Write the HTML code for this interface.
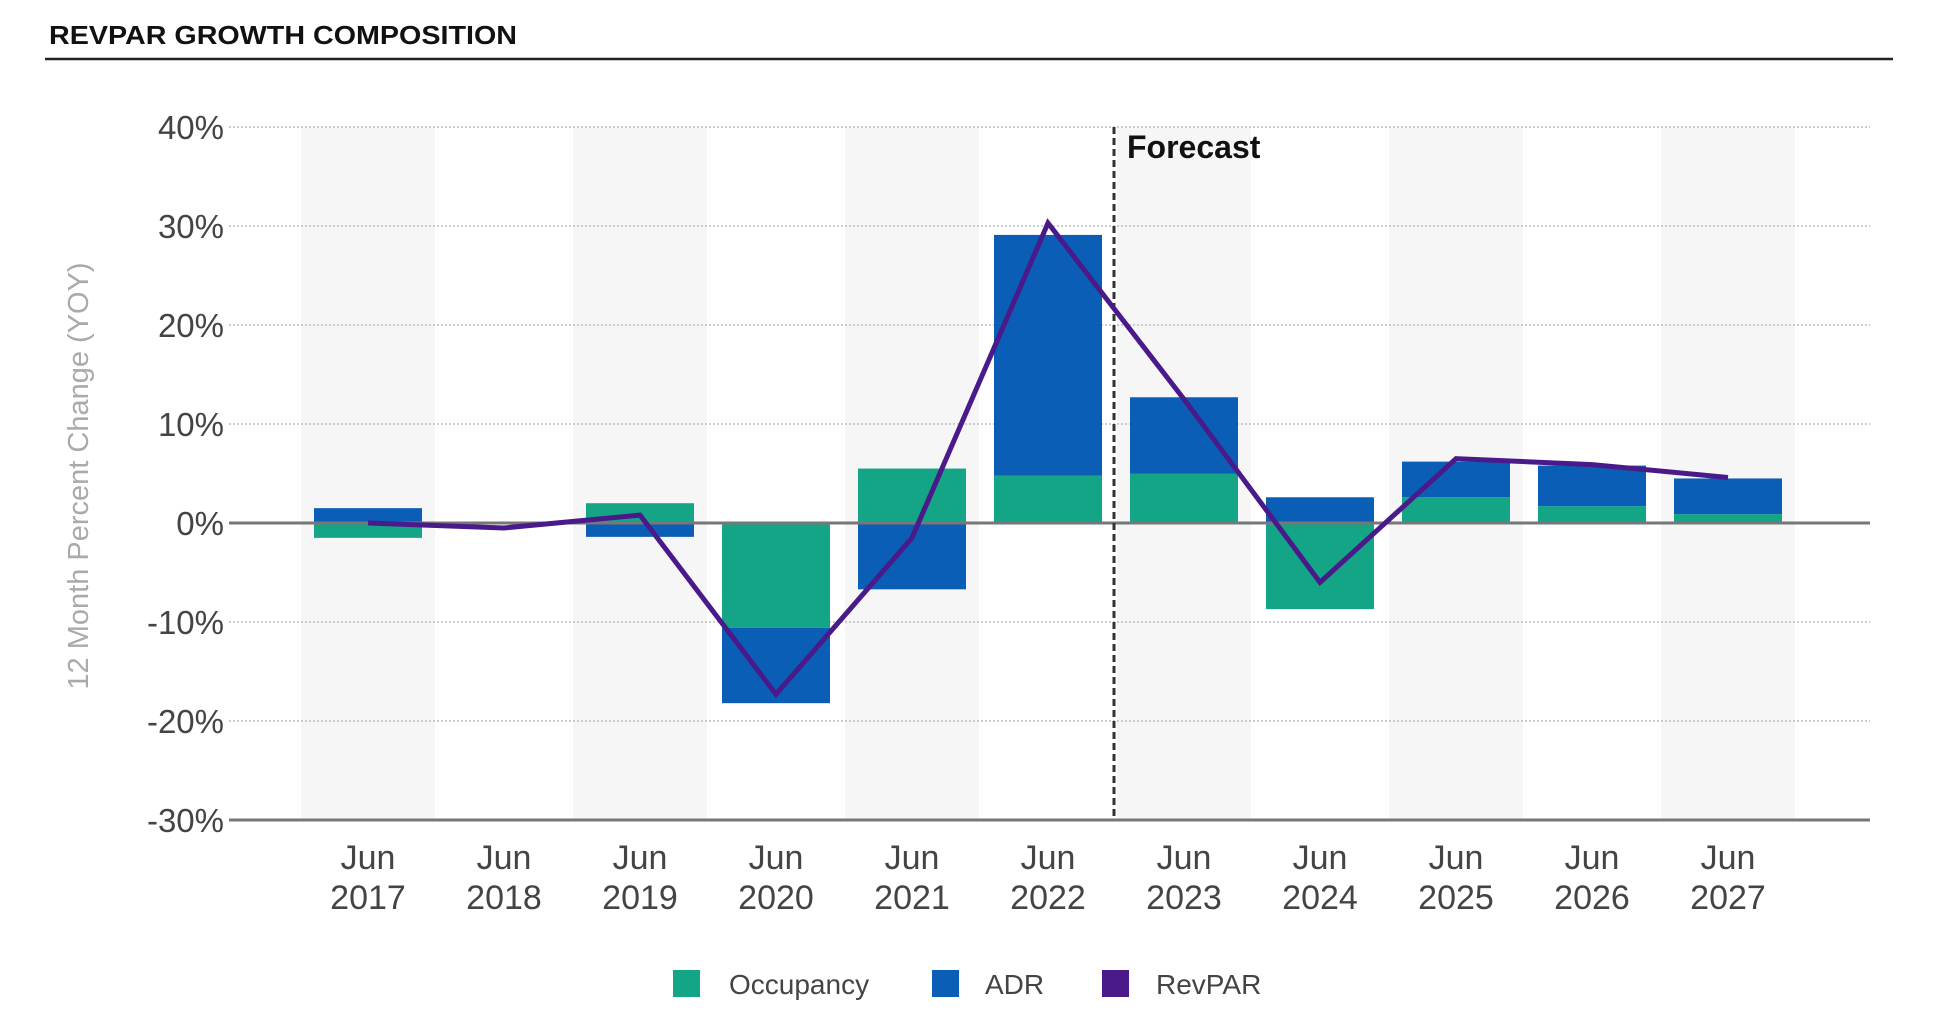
<!DOCTYPE html>
<html><head><meta charset="utf-8"><style>
html,body{margin:0;padding:0;background:#fff;}
body{width:1952px;height:1025px;overflow:hidden;position:relative;font-family:"Liberation Sans",sans-serif;}
</style></head><body>
<svg id="chart" width="1952" height="1025" xmlns="http://www.w3.org/2000/svg" style="position:absolute;left:0;top:0">
<text x="49" y="44" font-size="26" font-weight="bold" fill="#111" textLength="468" lengthAdjust="spacingAndGlyphs">REVPAR GROWTH COMPOSITION</text>
<line x1="45" y1="59" x2="1893" y2="59" stroke="#222" stroke-width="2.5"/>
<g id="bands"></g><g id="grid"></g><g id="bars"></g><g id="axes"></g><g id="line"></g><g id="labels"></g>
<text transform="translate(88,476) rotate(-90)" text-anchor="middle" font-size="29" fill="#aaa">12 Month Percent Change (YOY)</text>
<g>
<rect x="673" y="970" width="27" height="27" fill="#14a587"/>
<text x="729" y="994" font-size="28" fill="#444">Occupancy</text>
<rect x="932" y="970" width="27" height="27" fill="#0b5eb5"/>
<text x="985" y="994" font-size="28" fill="#444">ADR</text>
<rect x="1102" y="970" width="27" height="27" fill="#4a1a8a"/>
<text x="1156" y="994" font-size="28" fill="#444">RevPAR</text>
</g>
</svg>
<script>
const categories = ["2017","2018","2019","2020","2021","2022","2023","2024","2025","2026","2027"];
const occupancy = [-1.5, 0, 2.0, -10.6, 5.5, 4.8, 5.0, -8.7, 2.6, 1.7, 0.9];
const adr = [1.5, 0, -1.4, -7.6, -6.7, 24.3, 7.7, 2.6, 3.6, 4.1, 3.6];
const revpar = [0.0, -0.5, 0.8, -17.3, -1.5, 30.3, 12.5, -6.0, 6.5, 5.9, 4.6];
const yTicks = [40, 30, 20, 10, 0, -10, -20, -30];
const forecastIndex = 5.5;

const NS = "http://www.w3.org/2000/svg";
const plotL = 229, plotR = 1870, x0 = 368, step = 136, barW = 108;
function xs(i){ return x0 + i*step; }
function ys(v){ return 523 - v*9.9; }
function mk(tag, attrs, parent){ const e=document.createElementNS(NS,tag); for(const k in attrs) e.setAttribute(k,attrs[k]); document.getElementById(parent).appendChild(e); return e; }

categories.forEach((c,i)=>{
  if(i%2===0){
    const b = mk('rect',{x:xs(i)-step/2+1,y:ys(40),width:step-2,height:ys(-30)-ys(40),fill:'#f6f6f6'},'bands');
    
    
  }
});
yTicks.forEach(t=>{
  if(t!==0 && t!==-30){
    const g = mk('line',{x1:plotL,x2:plotR,y1:ys(t),y2:ys(t),stroke:'#ccc','stroke-width':2,'stroke-dasharray':'2 2'},'grid');
    
    
  }
  const l = mk('text',{x:224,y:ys(t)+12,'text-anchor':'end','font-size':33,fill:'#444'},'labels');
  l.textContent = t+'%';
  
  
});
categories.forEach((c,i)=>{
  const segs = [[occupancy[i],'#14a587','occupancy'],[adr[i],'#0b5eb5','adr']];
  let pos=0, neg=0;
  segs.forEach(([v,col,n])=>{
    if(v===0) return;
    let a,b;
    if(v>0){ a=pos; b=pos+v; pos=b; } else { a=neg; b=neg+v; neg=b; }
    const top=Math.min(ys(a),ys(b)), h=Math.abs(ys(a)-ys(b));
    const r = mk('rect',{x:xs(i)-barW/2,y:top,width:barW,height:h,fill:col},'bars');
    
    
  });
  const t1 = mk('text',{x:xs(i),y:869,'text-anchor':'middle','font-size':34,fill:'#444'},'labels');
  t1.textContent='Jun';
  
  
  const t2 = mk('text',{x:xs(i),y:909,'text-anchor':'middle','font-size':34,fill:'#444'},'labels');
  t2.textContent=c;
  
  
});
const z = mk('line',{x1:plotL,x2:plotR,y1:ys(0),y2:ys(0),stroke:'#777','stroke-width':3},'axes');


const bx = mk('line',{x1:plotL,x2:plotR,y1:ys(-30),y2:ys(-30),stroke:'#777','stroke-width':3},'axes');


const fx = xs(forecastIndex)-2;
const fl = mk('line',{x1:fx,x2:fx,y1:ys(40),y2:ys(-30),stroke:'#333','stroke-width':3,'stroke-dasharray':'7 4'},'axes');


const ft = mk('text',{x:fx+13,y:ys(40)+31,'font-size':32,'font-weight':'bold',fill:'#111'},'labels');
ft.textContent='Forecast';


const pl = mk('polyline',{points:revpar.map((v,i)=>xs(i)+','+ys(v)).join(' '),fill:'none',stroke:'#4a1a8a','stroke-width':5,'stroke-linejoin':'miter'},'line');


</script>
</body></html>
